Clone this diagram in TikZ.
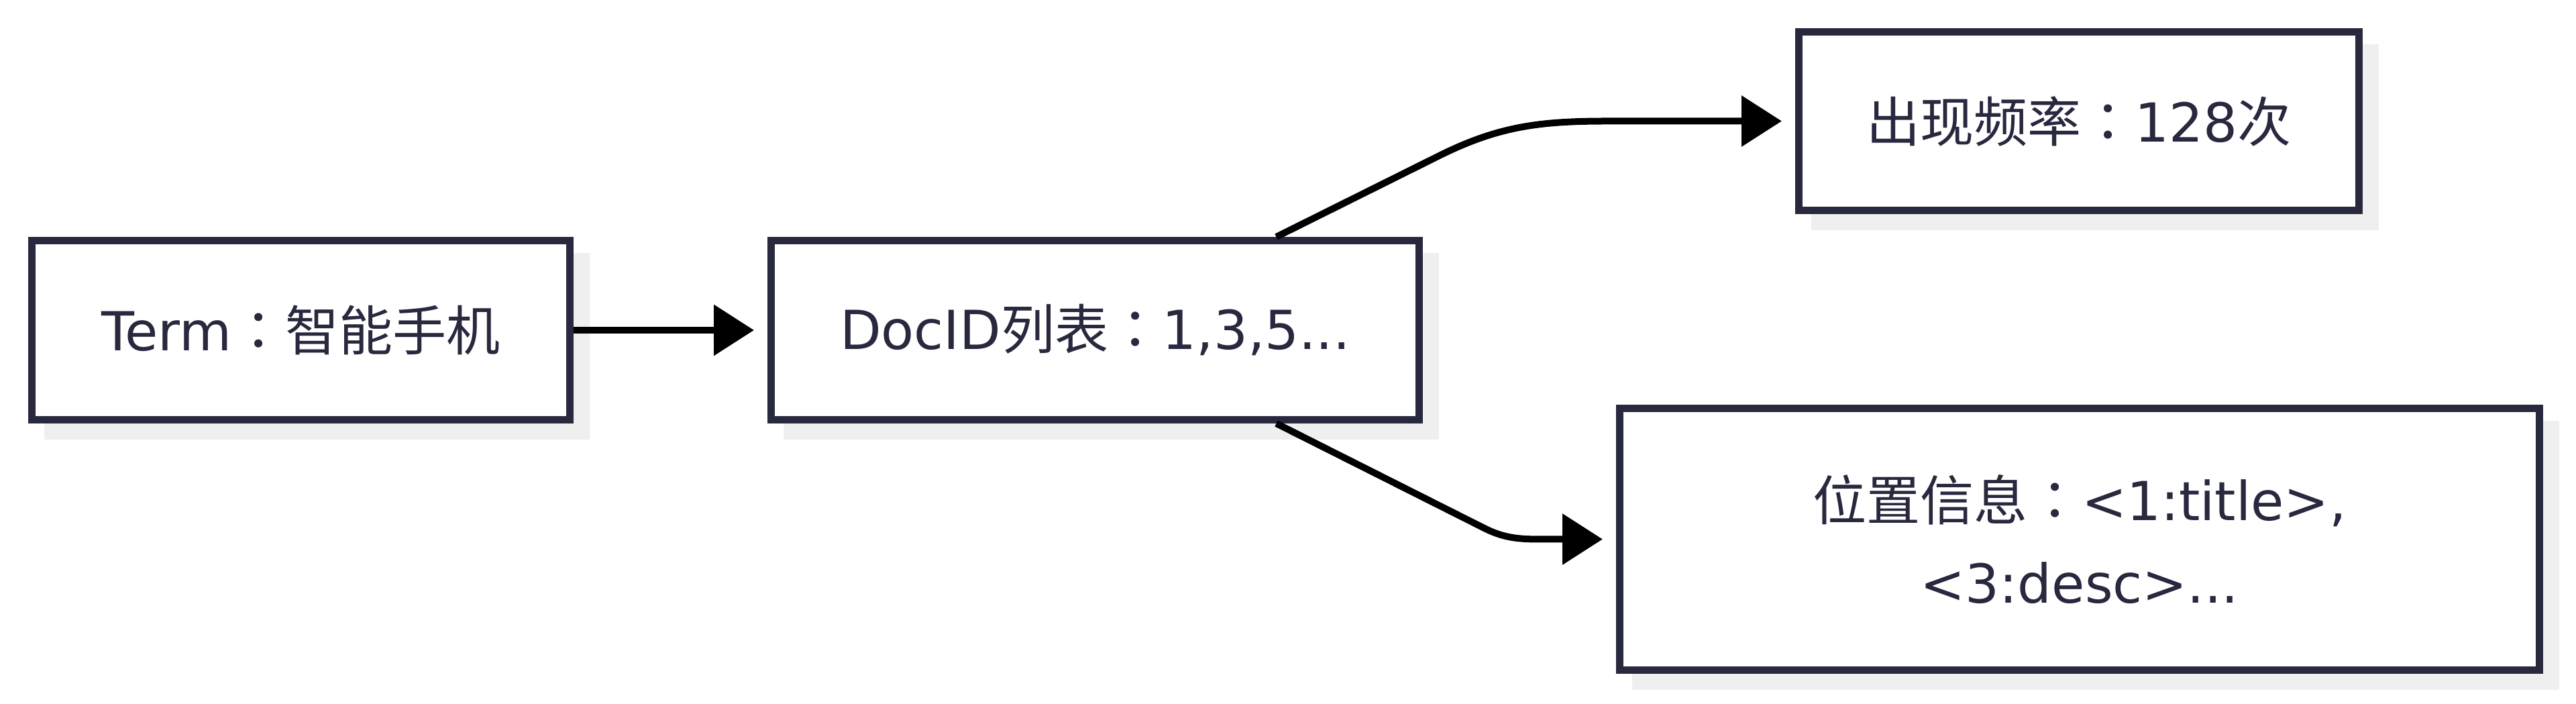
\documentclass[tikz,border=0pt]{standalone}
\usepackage{fontspec}
\setmainfont{DejaVu Sans}
\newfontfamily\cjk{Noto Sans CJK SC}
\newfontfamily\cjkPunct{Noto Sans CJK TC}
\usetikzlibrary{arrows.meta,calc,backgrounds}
\definecolor{boxColor}{RGB}{40,40,62}
\definecolor{shadowColor}{RGB}{239,239,239}
\tikzstyle{boxStyle} = [draw=boxColor, line width=0.11cm, fill=white, text=boxColor, align=center, inner sep=0pt, font=\fontsize{22.8pt}{35pt}\selectfont]
\tikzstyle{linkStyle} = [draw=black, line width=0.1cm, -{Triangle[length=0.6cm,width=0.74cm]}, shorten >=0.2cm]
\tikzstyle{shadowStyle} = [fill=shadowColor]
\newcommand{\boxShadow}[1]{\fill [shadowStyle] ($(#1.south west)+(0.24,-0.24)$) rectangle ($(#1.north east)+(0.24,-0.24)$);}
\newcommand{\wideColon}{{\cjkPunct ：}}

\begin{document}
\begin{tikzpicture}
  \useasboundingbox (0,0) rectangle (38.4,10.49);
  \node [boxStyle, minimum width=8.02cm, minimum height=2.67cm] (term) at (4.485,5.57) {Term\wideColon{\cjk 智能手机}};
  \node [boxStyle, minimum width=9.66cm, minimum height=2.67cm] (docList) at (16.325,5.57) {DocID{\cjk 列表}\wideColon 1,3,5...};
  \node [boxStyle, minimum width=8.35cm, minimum height=2.66cm] (frequency) at (30.99,8.685) {{\cjk 出现频率}\wideColon 128{\cjk 次}};
  \node [boxStyle, minimum width=13.71cm, minimum height=3.90cm] (position) at (31.00,2.455) {{\cjk 位置信息}\wideColon <1:title>,\\<3:desc>...};

  \begin{scope}[on background layer]
    \fill [white] (0,0) rectangle (38.4,10.49);
    \foreach \boxName in {term, docList, frequency, position} {
      \boxShadow{\boxName}
    }
  \end{scope}

  \draw [linkStyle] (term) -- (docList);
  \draw [linkStyle] ($(docList.north)+(2.7,0)$) -- ++(2.41,1.2) to [out=26.6, in=180] ($(frequency.west)+(-2.79,0)$) -- (frequency.west);
  \draw [linkStyle] ($(docList.south)+(2.7,0)$) -- ++(3.1,-1.56) to [out=-26.7, in=180] ($(position.west)+(-1.0,0)$) -- (position.west);
\end{tikzpicture}
\end{document}
